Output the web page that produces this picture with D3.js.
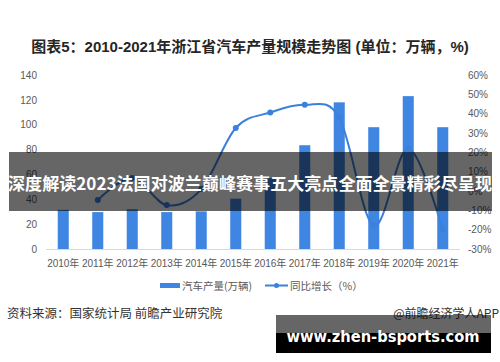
<!DOCTYPE html>
<html>
<head>
<meta charset="utf-8">
<script src="https://cdn.jsdelivr.net/npm/d3@7"></script>
<style>
  body { margin: 0; background: #fff; }
  svg { display: block; font-family: "Liberation Sans", "Noto Sans CJK SC", sans-serif; }
</style>
</head>
<body>
<svg id="chart" width="500" height="362"></svg>
<script>
// chart data
var years = ["2010年","2011年","2012年","2013年","2014年","2015年","2016年","2017年","2018年","2019年","2020年","2021年"];
var output = [31.5, 29.7, 32, 29.7, 30.3, 40.5, 57, 83.5, 118, 98, 123, 98];
var growth = [null, -4.7, 6.7, -7.3, 1, 32.6, 40.6, 44.6, 38, -18, 22, -20];
var leftTicks = [0, 20, 40, 60, 80, 100, 120, 140];
var rightTicks = [-30, -20, -10, 0, 10, 20, 30, 40, 50, 60];

var svg = d3.select("#chart");
var barColor = "#3f86e2",
    lineColor = "#3b80dc",
    labelColor = "#595959";

// title
svg.append("text")
    .attr("x", 250).attr("y", 52)
    .attr("text-anchor", "middle")
    .attr("font-size", "15px").attr("font-weight", "bold")
    .attr("fill", "#262626")
    .attr("font-family", "'Liberation Sans','Noto Sans CJK SC',sans-serif")
    .text("图表5：2010-2021年浙江省汽车产量规模走势图 (单位：万辆，%)");

// scales
var x = d3.scaleBand().domain(years).range([46, 460]).padding(0);
var yL = d3.scaleLinear().domain([0, 140]).range([249, 75]);
var yR = d3.scaleLinear().domain([-30, 60]).range([249, 75]);

// axes (labels only)
var leftAxis = svg.append("g").attr("transform", "translate(37,0)")
    .call(d3.axisLeft(yL).tickValues(leftTicks).tickSize(0).tickPadding(0));
var rightAxis = svg.append("g").attr("transform", "translate(468,0)")
    .call(d3.axisRight(yR).tickValues(rightTicks).tickSize(0).tickPadding(0)
        .tickFormat(function (d) { return d + "%"; }));
var bottomAxis = svg.append("g").attr("transform", "translate(0,249.5)")
    .call(d3.axisBottom(x).tickSize(0).tickPadding(10));

[leftAxis, rightAxis, bottomAxis].forEach(function (g) {
    g.select(".domain").remove();
    g.selectAll("text")
        .attr("fill", labelColor)
        .attr("font-size", "10px")
        .attr("font-family", "'Liberation Sans','Noto Sans CJK SC',sans-serif");
});

svg.append("line")
    .attr("x1", 46).attr("x2", 460)
    .attr("y1", 249.5).attr("y2", 249.5)
    .attr("stroke", "#d9d9d9");

// bars
var bw = x.bandwidth() * 0.32;
svg.append("g").selectAll("rect")
    .data(years)
    .enter().append("rect")
    .attr("x", function (d) { return x(d) + (x.bandwidth() - bw) / 2; })
    .attr("width", bw)
    .attr("y", function (d, i) { return yL(output[i]); })
    .attr("height", function (d, i) { return yL(0) - yL(output[i]); })
    .attr("fill", barColor);

// growth line (smoothed like excel)
var pts = years.map(function (d, i) { return { c: d, v: growth[i] }; })
    .filter(function (p) { return p.v !== null; });
var line = d3.line()
    .x(function (p) { return x(p.c) + x.bandwidth() / 2; })
    .y(function (p) { return yR(p.v); })
    .curve(d3.curveCatmullRom.alpha(0));

svg.append("path")
    .datum(pts)
    .attr("d", line)
    .attr("fill", "none")
    .attr("stroke", lineColor)
    .attr("stroke-width", 2);

svg.append("g").selectAll("circle")
    .data(pts)
    .enter().append("circle")
    .attr("cx", function (p) { return x(p.c) + x.bandwidth() / 2; })
    .attr("cy", function (p) { return yR(p.v); })
    .attr("r", 3)
    .attr("fill", lineColor);

// legend
var legend = svg.append("g").attr("font-size", "10.5px").attr("fill", labelColor)
    .attr("font-family", "'Noto Sans CJK SC',sans-serif");
legend.append("rect").attr("x", 160).attr("y", 283).attr("width", 20).attr("height", 5).attr("fill", barColor);
legend.append("text").attr("x", 182).attr("y", 289.5).text("汽车产量(万辆)");
legend.append("line").attr("x1", 265).attr("x2", 288).attr("y1", 285.5).attr("y2", 285.5)
    .attr("stroke", lineColor).attr("stroke-width", 2);
legend.append("circle").attr("cx", 276.5).attr("cy", 285.5).attr("r", 2.5).attr("fill", lineColor);
legend.append("text").attr("x", 290).attr("y", 289.5).text("同比增长（%）");

// source notes
svg.append("text")
    .attr("x", 7).attr("y", 318)
    .attr("font-size", "12.5px").attr("fill", "#333")
    .attr("font-family", "'Noto Sans CJK SC',sans-serif")
    .text("资料来源：国家统计局 前瞻产业研究院");
svg.append("text")
    .attr("x", 499).attr("y", 318)
    .attr("text-anchor", "end")
    .attr("font-size", "12px").attr("fill", "#333")
    .attr("font-family", "'Noto Sans CJK SC',sans-serif")
    .text("@前瞻经济学人APP");

// headline banner
svg.append("rect")
    .attr("x", 9).attr("y", 152).attr("width", 483).attr("height", 59)
    .attr("fill", "rgba(0,0,0,0.6)");
svg.append("text")
    .attr("x", 250).attr("y", 190)
    .attr("text-anchor", "middle")
    .attr("font-size", "17px").attr("font-weight", "bold")
    .attr("fill", "#fff")
    .attr("font-family", "'Noto Sans CJK SC',sans-serif")
    .attr("textLength", 484).attr("lengthAdjust", "spacingAndGlyphs")
    .text("深度解读2023法国对波兰巅峰赛事五大亮点全面全景精彩尽呈现");

// site stamp
svg.append("rect")
    .attr("x", 276).attr("y", 315).attr("width", 215).attr("height", 18)
    .attr("fill", "rgba(0,0,0,0.6)");
svg.append("rect")
    .attr("x", 276).attr("y", 333).attr("width", 215).attr("height", 20)
    .attr("fill", "#000");
svg.append("text")
    .attr("x", 383).attr("y", 342)
    .attr("text-anchor", "middle")
    .attr("font-size", "16px").attr("font-weight", "bold")
    .attr("fill", "#fff")
    .attr("font-family", "'DejaVu Sans',sans-serif")
    .attr("textLength", 193).attr("lengthAdjust", "spacingAndGlyphs")
    .text("www.zhen-bsports.com");
</script>
</body>
</html>
